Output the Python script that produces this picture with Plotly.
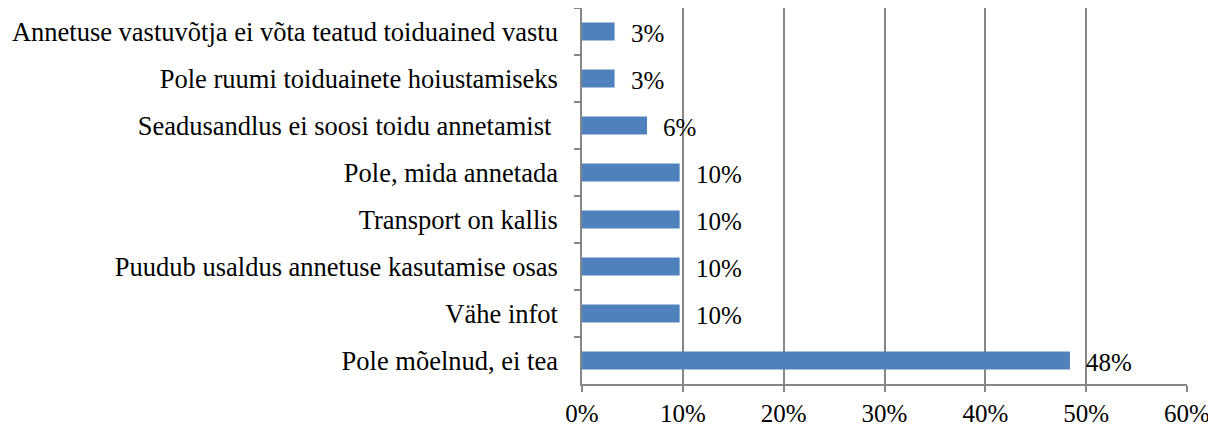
import plotly.graph_objects as go

categories = [
    "Annetuse vastuvõtja ei võta teatud toiduained vastu",
    "Pole ruumi toiduainete hoiustamiseks",
    "Seadusandlus ei soosi toidu annetamist ",
    "Pole, mida annetada",
    "Transport on kallis",
    "Puudub usaldus annetuse kasutamise osas",
    "Vähe infot",
    "Pole mõelnud, ei tea",
]
values = [3.23, 3.23, 6.45, 9.68, 9.68, 9.68, 9.68, 48.39]
labels = [f"{round(v)}%" for v in values]

FONT = "Liberation Serif, Times New Roman, serif"
GRAY = "#878787"

fig = go.Figure(
    go.Bar(
        x=values,
        y=categories,
        orientation="h",
        marker=dict(color="#4F81BD", line=dict(width=0)),
        width=0.38,
        hoverinfo="skip",
    )
)

for v, c, t in zip(values, categories, labels):
    fig.add_annotation(
        x=v, y=c, text=t, showarrow=False,
        xanchor="left", yanchor="middle",
        xshift=14, yshift=-2,
        font=dict(family=FONT, size=25, color="black"),
    )

fig.update_layout(
    width=1216, height=429,
    margin=dict(l=574, r=37, t=0, b=53),
    plot_bgcolor="white", paper_bgcolor="white",
    showlegend=False,
    font=dict(family=FONT, size=25, color="black"),
)
fig.update_xaxes(
    range=[0, 60], dtick=10, ticksuffix="%",
    showgrid=True, gridcolor=GRAY, gridwidth=1.5,
    showline=True, linecolor=GRAY, linewidth=1.5,
    ticks="outside", ticklen=6, tickcolor=GRAY, tickwidth=1.5,
    zeroline=False,
    tickfont=dict(family=FONT, size=25, color="black"),
)
fig.update_yaxes(
    autorange="reversed", type="category",
    showgrid=False, zeroline=False,
    showline=True, linecolor=GRAY, linewidth=1.5,
    ticks="outside", ticklen=6, tickcolor=GRAY, tickwidth=1.5,
    tickson="boundaries",
    ticklabelstandoff=17,
    tickfont=dict(family=FONT, size=26.5, color="black"),
)

fig.write_html("out.html")
